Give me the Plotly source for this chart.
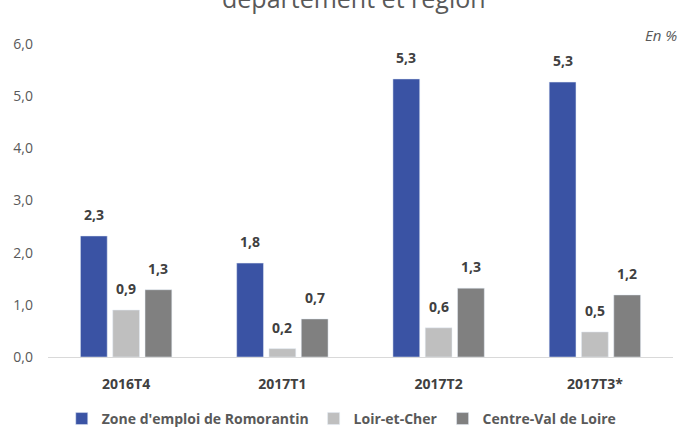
import plotly.graph_objects as go

categories = ["2016T4", "2017T1", "2017T2", "2017T3*"]
romorantin = [2.32, 1.80, 5.33, 5.27]
loir_et_cher = [0.90, 0.16, 0.56, 0.48]
centre_val = [1.29, 0.73, 1.32, 1.19]
series_names = ["Zone d'emploi de Romorantin", "Loir-et-Cher", "Centre-Val de Loire"]
colors = ["#3A53A4", "#BFBFBF", "#808080"]
y_ticks = [0, 1, 2, 3, 4, 5, 6]

fig = go.Figure()
slot = 32.2
for i, (name, vals, col) in enumerate(zip(series_names, [romorantin, loir_et_cher, centre_val], colors)):
    fig.add_trace(go.Bar(
        x=categories, y=vals, name=name, marker_color=col, hoverinfo="skip",
    ))
    for c, v in zip(categories, vals):
        fig.add_annotation(
            x=c, y=v, xref="x", yref="y", text=f"{v:.1f}".replace(".", ","),
            showarrow=False, xshift=(i - 1) * slot, yshift=10, yanchor="bottom",
            font=dict(family="Open Sans", size=14, color="#404040", weight="bold"),
        )

fig.update_layout(
    width=690, height=428,
    margin=dict(l=48, r=17, t=44, b=71, autoexpand=False),
    paper_bgcolor="white", plot_bgcolor="white",
    separators=", ",
    barmode="group", bargap=0.38, bargroupgap=0.17,
    showlegend=True,
    legend=dict(orientation="h", x=0.47, xanchor="center",
                y=-0.198, yanchor="middle",
                font=dict(family="Open Sans", size=14, color="#595959", weight="bold"),
                tracegroupgap=0, traceorder="normal"),
    font=dict(family="Open Sans", color="#595959"),
)
fig.update_yaxes(range=[0, 6], tickvals=y_ticks, tickformat=".1f", showgrid=False,
                 zeroline=False, showline=False, automargin=False,
                 tickfont=dict(family="Open Sans", size=14, color="#595959"),
                 ticklabelstandoff=14)
fig.update_xaxes(showline=True, linecolor="#D9D9D9", linewidth=1, showgrid=False,
                 automargin=False,
                 tickfont=dict(family="Open Sans", size=14, color="#404040", weight="bold"),
                 ticklabelstandoff=14)

fig.add_annotation(text="département et région", xref="paper", yref="paper",
                   x=0.49, y=1.0, yshift=46, yanchor="middle", showarrow=False,
                   font=dict(family="Open Sans", size=25, color="#595959"))
fig.add_annotation(text="<i>En %</i>", xref="paper", yref="paper",
                   x=1.0, xshift=6, y=1.0, yshift=9, xanchor="right", yanchor="middle",
                   showarrow=False,
                   font=dict(family="Open Sans", size=15, color="#595959"))

fig.write_html("out.html", config={"displayModeBar": False},
               post_script="document.body.style.margin='0';document.body.style.overflow='hidden';")
